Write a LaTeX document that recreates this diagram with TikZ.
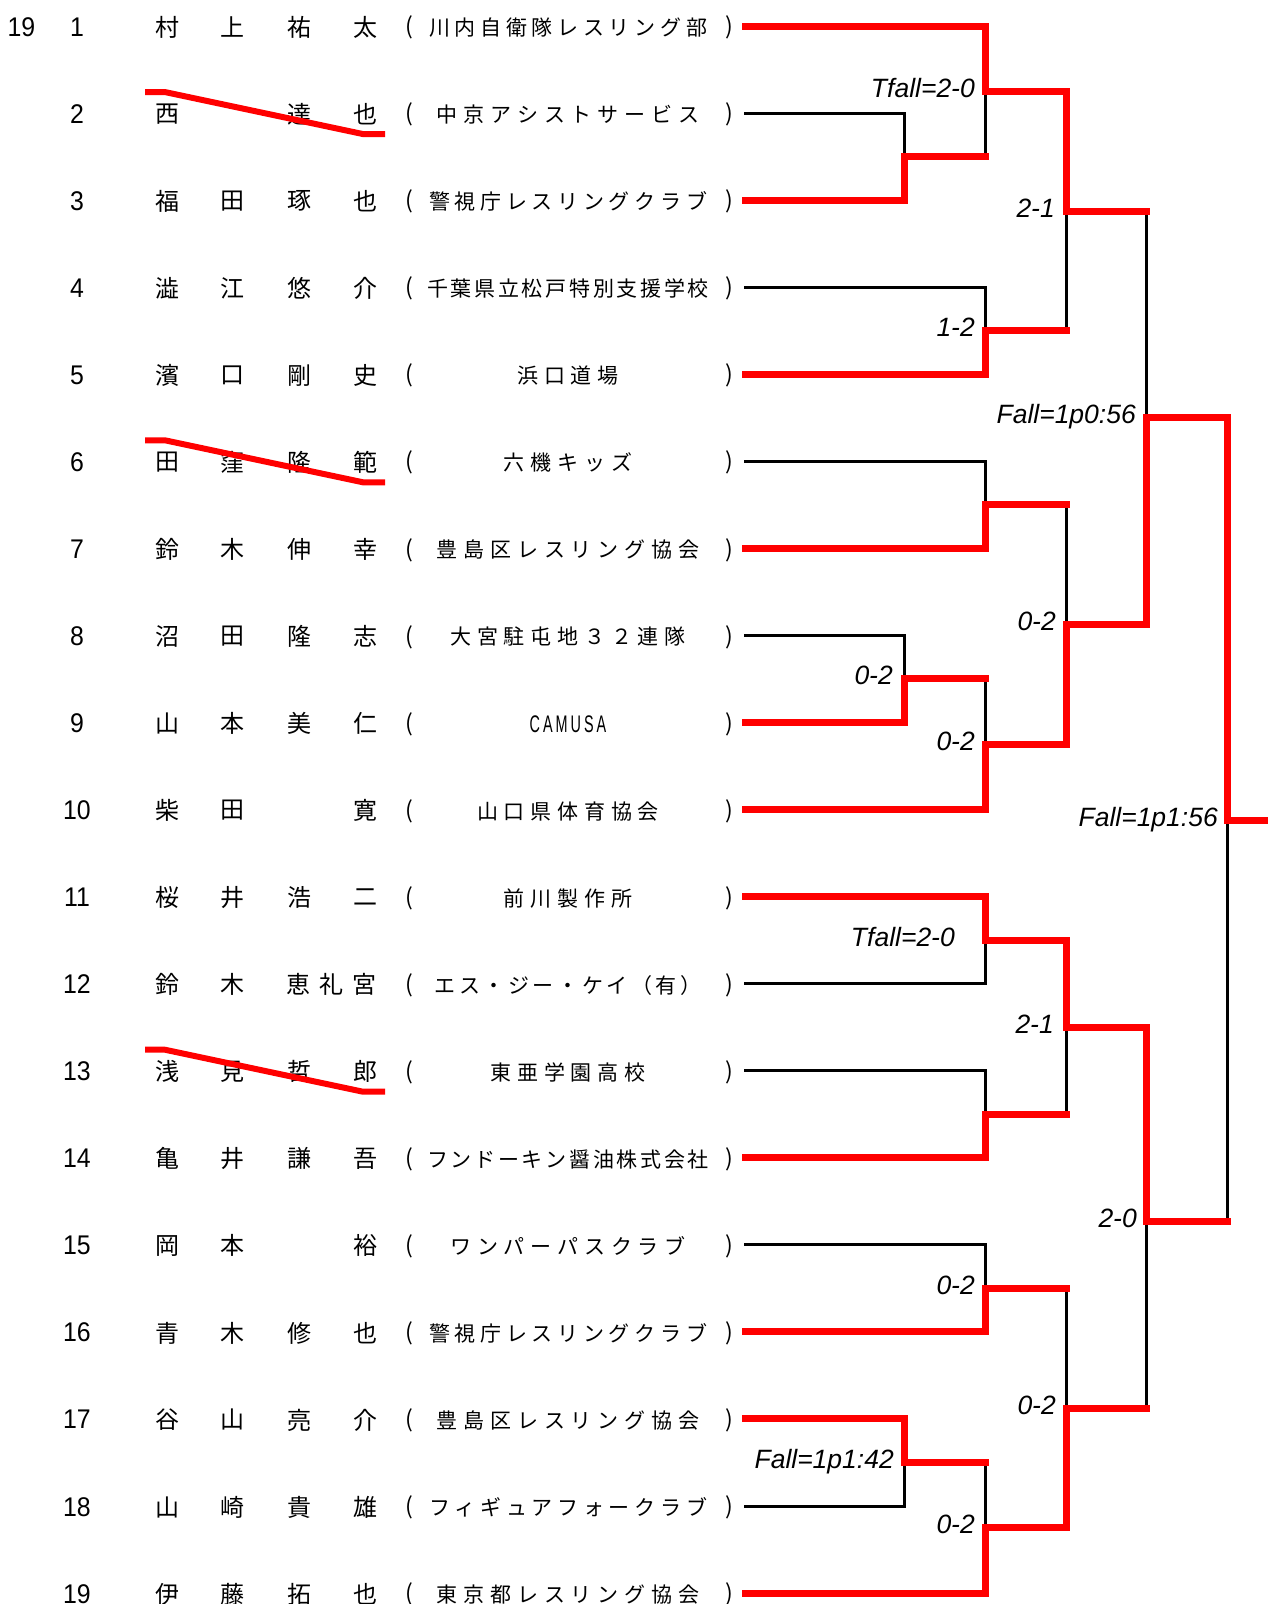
\documentclass[tikz,border=0pt]{standalone}
\usepackage{fontspec}
\usetikzlibrary{calc}
\newfontfamily\jpfont{Noto Sans CJK JP}
\newfontfamily\numfont[FakeStretch=0.92]{Liberation Sans}
\newfontfamily\lblfont{Liberation Sans}
\newfontfamily\camfont[FakeStretch=0.6]{Liberation Sans}
\makeatletter
\newdimen\clubkern
\def\cl@first#1{#1\cl@rest}
\def\cl@rest#1{\ifx\relax#1\else\kern\clubkern #1\expandafter\cl@rest\fi}
\newcommand\clubtext[2]{\clubkern=#1\relax\cl@first#2\relax}
\makeatother
\newcommand\nmrow[2]{\foreach \xx/\cc [count=\k] in {#2} {\node[nch] (nm#1-\k) at (\xx,{26+87.06*(#1-1)+1}) {\cc};}}
\newcommand\clubrow[3]{\node[clb] (club#1) at (568,{26+87.06*(#1-1)+1.5}) {\clubtext{#2}{#3}};}
\newcommand\hseg[3]{\draw[#3] (#1) -- (#1 -| #2);}
\newcommand\vseg[3]{\draw[#3] (#1 -| #2) -- (#2);}
\newcommand\wseg[2]{\draw[rd] (#1) -- (#1 -| #2) -- (#2);}
\newcommand\strikerow[1]{\draw[strike] (145,{26+87.06*(#1-1)-21}) -- (165,{26+87.06*(#1-1)-21}) -- (363,{26+87.06*(#1-1)+21}) -- (385,{26+87.06*(#1-1)+21});}
\begin{document}
\begin{tikzpicture}[x=1pt,y=-1pt,
  blk/.style={line width=3pt, black, line cap=rect},
  rd/.style={line width=7pt, red, line cap=rect, line join=miter},
  strike/.style={line width=6pt, red, line join=round},
  num/.style={font=\numfont\fontsize{27}{27}\selectfont, inner sep=0pt, anchor=base},
  nch/.style={font=\jpfont\fontsize{24}{24}\selectfont, inner sep=0pt},
  clb/.style={font=\jpfont\fontsize{21}{21}\selectfont, inner sep=0pt},
  par/.style={font=\jpfont\fontsize{23}{23}\selectfont, inner sep=0pt},
  lbl/.style={font=\lblfont\itshape\fontsize{26.5}{26.5}\selectfont, inner sep=0pt, anchor=base east}]
\useasboundingbox[fill=white] (0,0) rectangle (1267,1604);

\node[num] (total) at (21.5,36) {19};
\foreach \i in {1,...,19} {
  \pgfmathsetmacro\yy{26+87.06*(\i-1)}
  \coordinate (p\i) at (745,\yy);
  \node[num] (num\i) at (77,\yy+10) {\i};
  \node[par] (lp\i) at (409,\yy+1.5) {(};
  \node[par] (rp\i) at (729,\yy+1.5) {)};
}

% names
\nmrow{1}{167/村,232/上,299/祐,365/太}
\nmrow{2}{167/西,299/達,365/也}
\nmrow{3}{167/福,232/田,299/琢,365/也}
\nmrow{4}{167/澁,232/江,299/悠,365/介}
\nmrow{5}{167/濱,232/口,299/剛,365/史}
\nmrow{6}{167/田,232/窪,299/隆,365/範}
\nmrow{7}{167/鈴,232/木,299/伸,365/幸}
\nmrow{8}{167/沼,232/田,299/隆,365/志}
\nmrow{9}{167/山,232/本,299/美,365/仁}
\nmrow{10}{167/柴,232/田,365/寛}
\nmrow{11}{167/桜,232/井,299/浩,365/二}
\nmrow{12}{167/鈴,232/木,298/恵,331/礼,364/宮}
\nmrow{13}{167/浅,232/見,299/哲,365/郎}
\nmrow{14}{167/亀,232/井,299/謙,365/吾}
\nmrow{15}{167/岡,232/本,365/裕}
\nmrow{16}{167/青,232/木,299/修,365/也}
\nmrow{17}{167/谷,232/山,299/亮,365/介}
\nmrow{18}{167/山,232/崎,299/貴,365/雄}
\nmrow{19}{167/伊,232/藤,299/拓,365/也}

% clubs
\clubrow{1}{4.7pt}{川内自衛隊レスリング部}
\clubrow{2}{5.8pt}{中京アシストサービス}
\clubrow{3}{4.7pt}{警視庁レスリングクラブ}
\clubrow{4}{2.7pt}{千葉県立松戸特別支援学校}
\clubrow{5}{5.8pt}{浜口道場}
\clubrow{6}{5.8pt}{六機キッズ}
\clubrow{7}{5.8pt}{豊島区レスリング協会}
\clubrow{8}{5.8pt}{大宮駐屯地３２連隊}
\node[font=\camfont\fontsize{24}{24}\selectfont, inner sep=0pt] (club9) at (568,{26+87.06*8+1.5}) {\clubtext{3pt}{CAMUSA}};
\clubrow{10}{5.8pt}{山口県体育協会}
\clubrow{11}{5.8pt}{前川製作所}
\clubrow{12}{3.6pt}{エス・ジー・ケイ（有）}
\clubrow{13}{5.8pt}{東亜学園高校}
\clubrow{14}{2.7pt}{フンドーキン醤油株式会社}
\clubrow{15}{5.8pt}{ワンパーパスクラブ}
\clubrow{16}{4.7pt}{警視庁レスリングクラブ}
\clubrow{17}{5.8pt}{豊島区レスリング協会}
\clubrow{18}{4.7pt}{フィギュアフォークラブ}
\clubrow{19}{5.8pt}{東京都レスリング協会}

% strike-throughs
\strikerow{2}
\strikerow{6}
\strikerow{13}

% match junctions
\coordinate (mA) at (904,156.59);
\coordinate (mB) at (985,91.3);
\coordinate (mC) at (985,330.71);
\coordinate (mD) at (1066,211.0);
\coordinate (mE) at (985,504.83);
\coordinate (mF) at (904,678.95);
\coordinate (mG) at (985,744.25);
\coordinate (mH) at (1066,624.54);
\coordinate (mI) at (1146,417.77);
\coordinate (mJ) at (985,940.13);
\coordinate (mK2) at (985,1114.25);
\coordinate (mK) at (1066,1027.19);
\coordinate (mM) at (985,1288.37);
\coordinate (mN) at (904,1462.49);
\coordinate (mO) at (985,1527.79);
\coordinate (mP) at (1066,1408.08);
\coordinate (mQ) at (1146,1221);
\coordinate (mZ) at (1227,820);
\coordinate (win) at (1272,820);

% black (losing) segments
\foreach \a/\m in {p2/mA,p4/mC,p6/mE,p8/mF,p12/mJ,p13/mK2,p15/mM,p18/mN}{\hseg{\a}{\m}{blk}}
\foreach \a/\m in {p2/mA,mA/mB,p4/mC,mC/mD,p6/mE,p8/mF,mF/mG,mE/mH,mD/mI,p12/mJ,p13/mK2,mK2/mK,p15/mM,p18/mN,mN/mO,mM/mP,mP/mQ,mQ/mZ}{\vseg{\a}{\m}{blk}}

% red (advancing) segments
\foreach \a/\m in {mA/mB,mC/mD,mF/mG,mE/mH,mD/mI,mK2/mK,mN/mO,mM/mP,mP/mQ,mQ/mZ}{\hseg{\a}{\m}{rd}}
\foreach \a/\m in {p1/mB,p3/mA,p5/mC,mB/mD,p7/mE,p9/mF,p10/mG,mG/mH,mH/mI,p11/mJ,p14/mK2,mJ/mK,p16/mM,p17/mN,p19/mO,mO/mP,mK/mQ,mI/mZ}{\wseg{\a}{\m}}
\draw[rd] (mZ) -- (win);

% scores
\node[lbl] (sB) at ($(mB)+(-10,6)$) {Tfall=2-0};
\node[lbl] (sC) at ($(mC)+(-10,6)$) {1-2};
\node[lbl] (sD) at ($(mD)+(-11,6)$) {2-1};
\node[lbl] (sI) at ($(mI)+(-10,6)$) {Fall=1p0:56};
\node[lbl] (sF) at ($(mF)+(-11,6)$) {0-2};
\node[lbl] (sG) at ($(mG)+(-10,6)$) {0-2};
\node[lbl] (sH) at ($(mH)+(-10,6)$) {0-2};
\node[lbl] (sZ) at ($(mZ)+(-9,6)$) {Fall=1p1:56};
\node[lbl] (sJ) at ($(mJ)+(-30,6)$) {Tfall=2-0};
\node[lbl] (sK) at ($(mK)+(-12,6)$) {2-1};
\node[lbl] (sQ) at ($(mQ)+(-9,6)$) {2-0};
\node[lbl] (sM) at ($(mM)+(-10,6)$) {0-2};
\node[lbl] (sP) at ($(mP)+(-10,6)$) {0-2};
\node[lbl] (sN) at ($(mN)+(-10,6)$) {Fall=1p1:42};
\node[lbl] (sO) at ($(mO)+(-10,6)$) {0-2};
\end{tikzpicture}
\end{document}
